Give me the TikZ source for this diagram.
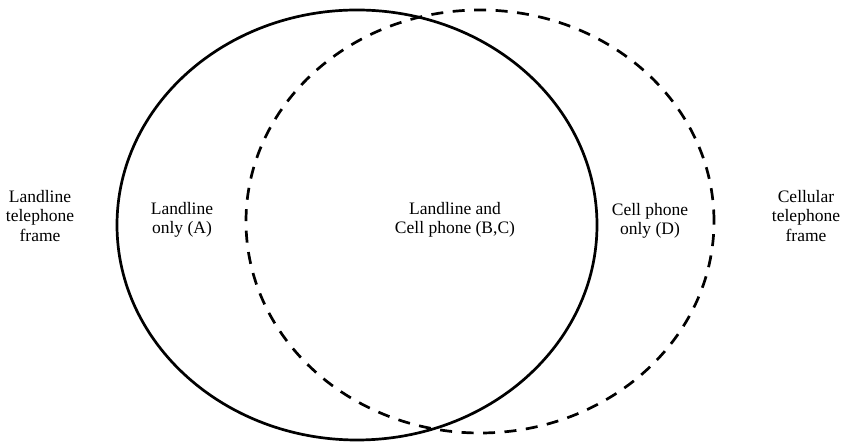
\documentclass[tikz,border=0pt]{standalone}
\usepackage{fontspec}
\setmainfont{Liberation Serif}
\usetikzlibrary{calc,positioning}

\begin{document}
\begin{tikzpicture}[
    x=1pt,y=1pt,
    line width=2.7pt,
    label/.style={
      align=center,inner sep=0pt,font=\fontsize{17.5}{19.5}\selectfont
    },
    landframe/.style={draw},
    cellframe/.style={draw,dash pattern=on 12pt off 9.5pt}
  ]
  \useasboundingbox (0,0) rectangle (843,443);

  % draw frames
  \draw [landframe] (357,218) ellipse [x radius=240,y radius=215];
  \draw [cellframe] (480,221.5) ellipse [x radius=234,y radius=211.5];

  \node (lframe) [label] at (40,227)  {Landline\\telephone\\frame};
  \node (onlyA)  [label] at (182,223) {Landline\\only (A)};
  \node (both)   [label] at (455,223) {Landline and\\Cell phone (B,C)};
  \node (onlyD)  [label] at (650,222) {Cell phone\\only (D)};
  \node (cframe) [label] at (806,227) {Cellular\\telephone\\frame};
\end{tikzpicture}
\end{document}
